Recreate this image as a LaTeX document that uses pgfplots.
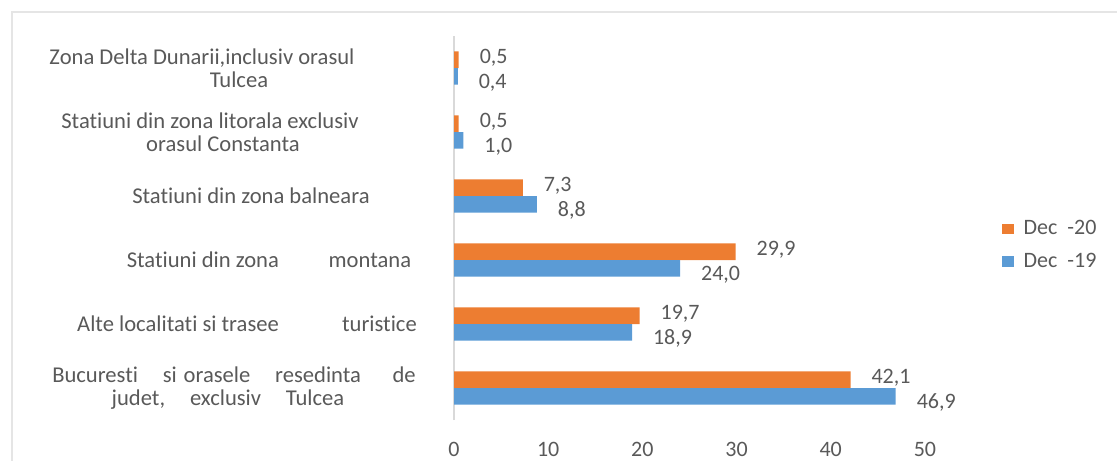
\documentclass[border=0pt]{standalone}
\usepackage{pgfplots}
\pgfplotsset{compat=1.18}
\usepackage{fontspec}
\setmainfont[Ligatures=NoCommon]{Carlito}
\definecolor{xorange}{HTML}{ED7D31}
\definecolor{xblue}{HTML}{5B9BD5}
\definecolor{txtgray}{HTML}{595959}
\begin{document}
\begin{tikzpicture}[x=1pt,y=1pt]
\path[use as bounding box] (0,0) rectangle (558.5,230.5);
\draw[black!10, line width=1.2pt] (6,0) -- (6,224.5) -- (558.5,224.5);
\begin{axis}[
  at={(227pt,20.5pt)}, anchor=south west,
  scale only axis, width=259pt, height=192pt,
  xmin=0, xmax=55, ymin=-0.5, ymax=5.5,
  xbar, bar width=0.26,
  axis y line=left, axis x line=bottom,
  axis line style={-, draw=black!15, line width=0.8pt},
  x axis line style={draw=none},
  major tick length=0pt,
  xtick={0,10,20,30,40,50},
  ytick={0,1,2,3,4,5},
  yticklabels={
    {Bucuresti\hspace{1.1em}si\hspace{0.3em}orasele\hspace{1.1em}resedinta\hspace{1.4em}de\\\hspace*{-6pt}judet,\hspace{1.1em}exclusiv\hspace{1.1em}Tulcea},
    {\hspace*{13pt}Alte localitati si trasee\hspace{2.8em}turistice},
    {\hspace*{35pt}Statiuni din zona\hspace{2.2em}montana},
    {\hspace*{17pt}Statiuni din zona balneara},
    {Statiuni din zona litorala exclusiv\hspace*{24pt}\\\hspace*{13pt}orasul Constanta\hspace*{24pt}},
    {Zona Delta Dunarii,inclusiv orasul\hspace*{32pt}\\\hspace*{37pt}Tulcea\hspace*{32pt}}},
  yticklabel style={anchor=center, xshift=-110pt, align=center, font=\fontsize{11.3}{11.5}\selectfont, text=txtgray},
  xticklabel style={font=\fontsize{11}{12}\selectfont, text=txtgray, yshift=-7.5pt},
  /pgf/number format/assume math mode=true,
  nodes near coords={\pgfmathprintnumber[fixed,fixed zerofill,precision=1,use comma]{\pgfplotspointmeta}},
  nodes near coords style={anchor=west, font=\fontsize{11}{12}\selectfont, text=txtgray, xshift=7pt},
  legend style={at={(1.045,0.455)}, anchor=west, draw=none, fill=none, font=\fontsize{11}{12}\selectfont, text=txtgray, row sep=3.5pt},
  legend cell align=left,
  legend image code/.code={\fill[#1] (0pt,-2.6pt) rectangle (6pt,2.6pt); \path (9pt,0pt);},
]
\addplot[fill=xorange, draw=none, bar shift=0.13, nodes near coords style={yshift=1pt}] coordinates {(42.1,0) (19.7,1) (29.9,2) (7.3,3) (0.5,4) (0.5,5)};
\addlegendentry{Dec\ \ -20}
\addplot[fill=xblue, draw=none, bar shift=-0.13, nodes near coords style={yshift=-3pt}] coordinates {(46.9,0) (18.9,1) (24.0,2) (8.8,3) (1.0,4) (0.4,5)};
\addlegendentry{Dec\ \ -19}
\end{axis}
\end{tikzpicture}
\end{document}
